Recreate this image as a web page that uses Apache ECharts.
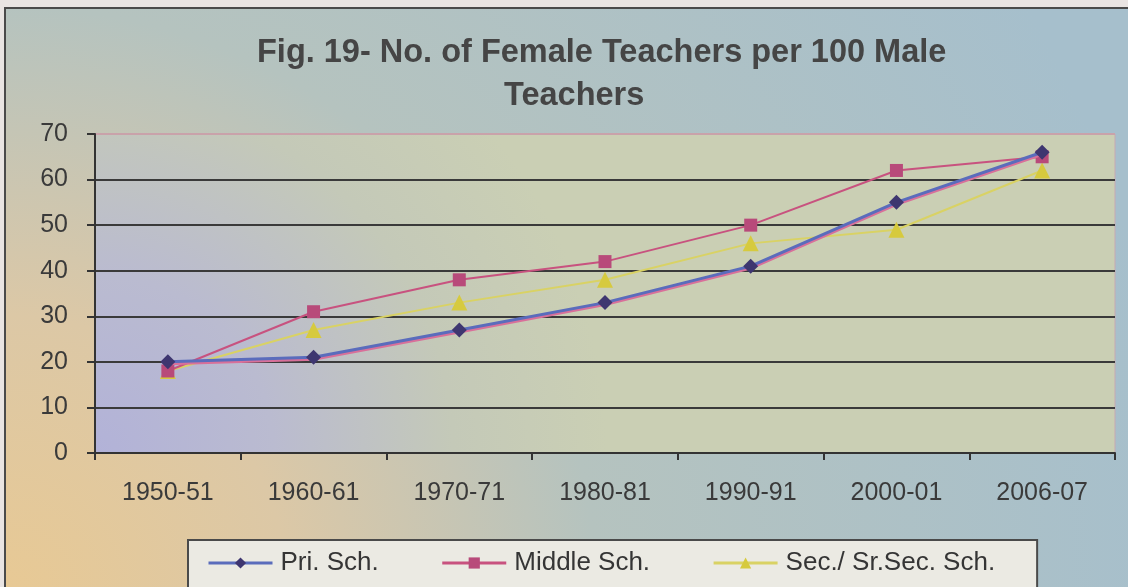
<!DOCTYPE html>
<html>
<head>
<meta charset="utf-8">
<script src="https://cdn.jsdelivr.net/npm/echarts@6/dist/echarts.min.js"></script>
<style>
  html, body { margin: 0; padding: 0; background: #e9e4e2; }
  #chart { width: 1128px; height: 587px; }
</style>
</head>
<body>
<div id="chart"></div>
<script>
// 年份 / 各级学校 每100名男教师对应的女教师人数
var years = ['1950-51', '1960-61', '1970-71', '1980-81', '1990-91', '2000-01', '2006-07'];
var priSch = [20, 21, 27, 33, 41, 55, 66];
var middleSch = [18, 31, 38, 42, 50, 62, 65];
var secSch = [18, 27, 33, 38, 46, 49, 62];
var yTicks = [0, 10, 20, 30, 40, 50, 60, 70];

var chart = echarts.init(document.getElementById('chart'));

// 最上面那条 (70) 是绘图区边框，偏粉色
var gridLineColors = ['#3a3a3a', '#3a3a3a', '#3a3a3a', '#3a3a3a', '#3a3a3a', '#3a3a3a', '#3a3a3a', '#c9a2aa'];
var fontName = 'Liberation Sans';

var option = {
    backgroundColor: '#e9e4e2',
    animation: false,
    // 外框和渐变底色
    graphic: [{
        type: 'rect',
        z: -10,
        shape: { x: 5, y: 8, width: 1130, height: 590 },
        style: {
            fill: new echarts.graphic.RadialGradient(0, 1, 2, [
                { offset: 0, color: '#e8c994' },
                { offset: 0.24, color: '#dcc8a6' },
                { offset: 0.5, color: '#b5c3bf' },
                { offset: 1, color: '#a6bfcc' }
            ]),
            stroke: '#4a4a4a',
            lineWidth: 2
        }
    }],
    title: [{
        text: 'Fig. 19- No. of Female Teachers per 100 Male',
        left: 252,
        top: 32,
        textStyle: { fontFamily: fontName, fontSize: 32.5, fontWeight: 'bold', color: '#454545' }
    }, {
        text: 'Teachers',
        left: 499,
        top: 75,
        textStyle: { fontFamily: fontName, fontSize: 32.5, fontWeight: 'bold', color: '#454545' }
    }],
    legend: {
        left: 188,
        top: 540,
        orient: 'horizontal',
        backgroundColor: '#ebeae3',
        borderColor: '#4a4a4a',
        borderWidth: 2,
        padding: [10, 42, 40, 19],
        itemWidth: 64,
        itemHeight: 14,
        itemGap: 62,
        lineStyle: { width: 3 },
        textStyle: { fontFamily: fontName, fontSize: 26, color: '#353535', padding: [0, 0, 0, 3] },
        data: ['Pri. Sch.', 'Middle Sch.', 'Sec./ Sr.Sec. Sch.']
    },
    grid: {
        left: 95,
        right: 13,
        top: 134,
        bottom: 134,
        show: true,
        borderColor: '#c6a9b2',
        borderWidth: 1,
        backgroundColor: new echarts.graphic.RadialGradient(0, 1, 1.6, [
            { offset: 0, color: '#b2b2d8' },
            { offset: 0.35, color: '#babbd0' },
            { offset: 0.7, color: '#c4c9b8' },
            { offset: 1, color: '#cacfb4' }
        ])
    },
    xAxis: {
        type: 'category',
        data: years,
        boundaryGap: true,
        axisLine: { lineStyle: { color: '#333', width: 2 } },
        axisTick: { show: true, length: 7, interval: 0, lineStyle: { color: '#333', width: 2 } },
        axisLabel: { margin: 28, fontFamily: fontName, fontSize: 25, color: '#3a3a3a' },
        splitLine: { show: false }
    },
    yAxis: {
        type: 'value',
        min: yTicks[0],
        max: yTicks[yTicks.length - 1],
        interval: 10,
        axisLine: { show: true, lineStyle: { color: '#333', width: 2 } },
        axisTick: { show: true, length: 8, lineStyle: { color: '#333', width: 2 } },
        axisLabel: { margin: 27, fontFamily: fontName, fontSize: 25, color: '#3a3a3a' },
        splitLine: { show: true, lineStyle: { color: gridLineColors, width: 2 } }
    },
    series: [{
        name: 'Pri. Sch.',
        type: 'line',
        data: priSch,
        symbol: 'diamond',
        symbolSize: 15,
        z: 4,
        itemStyle: { color: '#3e3670' },
        lineStyle: { color: '#5a6cbc', width: 3, shadowColor: '#d8709a', shadowOffsetY: 2 }
    }, {
        name: 'Middle Sch.',
        type: 'line',
        data: middleSch,
        symbol: 'rect',
        symbolSize: 13,
        z: 3,
        itemStyle: { color: '#b84a7a' },
        lineStyle: { color: '#c8527f', width: 2 }
    }, {
        name: 'Sec./ Sr.Sec. Sch.',
        type: 'line',
        data: secSch,
        symbol: 'triangle',
        symbolSize: 16,
        z: 2,
        itemStyle: { color: '#d6ca3e' },
        lineStyle: { color: '#d9d264', width: 2 }
    }]
};

chart.setOption(option);
</script>
</body>
</html>
